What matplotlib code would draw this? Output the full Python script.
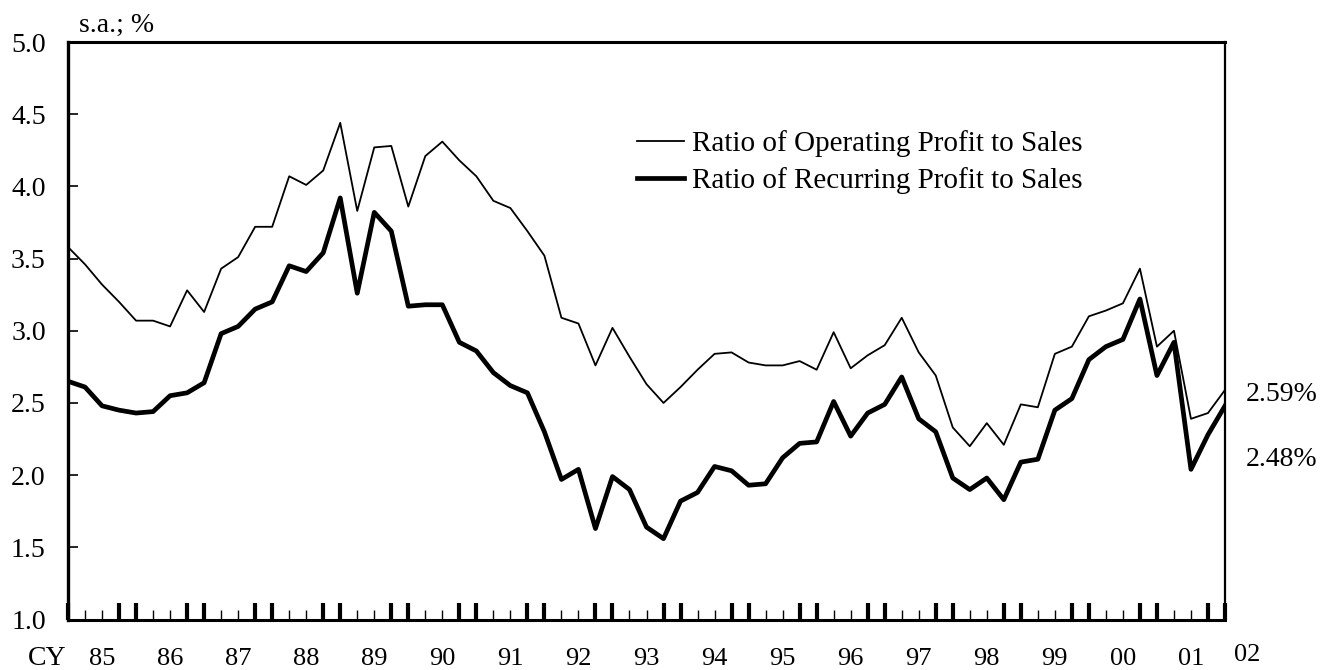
import numpy as np
from matplotlib import pyplot as plt
from matplotlib import transforms

# quarterly data, CY1985 Q1 .. CY2002 Q1 (s.a., %)
operating = [3.58, 3.46, 3.32, 3.20, 3.07, 3.07, 3.03, 3.28, 3.13, 3.43,
             3.51, 3.72, 3.72, 4.07, 4.01, 4.11, 4.44, 3.83, 4.27, 4.28,
             3.86, 4.21, 4.31, 4.18, 4.07, 3.90, 3.85, 3.69, 3.52, 3.09,
             3.05, 2.76, 3.02, 2.82, 2.63, 2.50, 2.61, 2.73, 2.84, 2.85,
             2.78, 2.76, 2.76, 2.79, 2.73, 2.99, 2.74, 2.83, 2.90, 3.09,
             2.85, 2.69, 2.33, 2.20, 2.36, 2.21, 2.49, 2.47, 2.84, 2.89,
             3.10, 3.14, 3.19, 3.43, 2.89, 3.00, 2.39, 2.43, 2.59]
recurring = [2.65, 2.61, 2.48, 2.45, 2.43, 2.44, 2.55, 2.57, 2.64, 2.98,
             3.03, 3.15, 3.20, 3.45, 3.41, 3.54, 3.92, 3.26, 3.82, 3.69,
             3.17, 3.18, 3.18, 2.92, 2.86, 2.71, 2.62, 2.57, 2.30, 1.97,
             2.04, 1.63, 1.99, 1.90, 1.64, 1.56, 1.82, 1.88, 2.06, 2.03,
             1.93, 1.94, 2.12, 2.22, 2.23, 2.51, 2.27, 2.43, 2.49, 2.68,
             2.39, 2.30, 1.98, 1.90, 1.98, 1.83, 2.09, 2.11, 2.45, 2.53,
             2.80, 2.89, 2.94, 3.22, 2.69, 2.92, 2.04, 2.28, 2.48]
year_labels = ['85', '86', '87', '88', '89', '90', '91', '92', '93', '94',
               '95', '96', '97', '98', '99', '00', '01', '02']
yticks = [1.0, 1.5, 2.0, 2.5, 3.0, 3.5, 4.0, 4.5, 5.0]

plt.rcParams['font.family'] = ['Liberation Serif', 'DejaVu Serif']
fs = 20

x = np.arange(len(operating))

fig = plt.figure(figsize=(13.2, 6.7), dpi=100)
ax = fig.add_axes([68 / 1320, 1 - 619.5 / 670, (1225 - 68) / 1320, 577.5 / 670])

ax.plot(x, operating, color='black', lw=1.3, label='Ratio of Operating Profit to Sales')
ax.plot(x, recurring, color='black', lw=3.4, label='Ratio of Recurring Profit to Sales')

ax.set_xlim(0, len(x) - 1)
ax.set_ylim(1.0, 5.0)

# y axis
ax.set_yticks(yticks)
ax.set_yticklabels(['%.1f' % v for v in yticks], fontsize=fs)
ax.tick_params(axis='y', direction='in', length=7.5, width=1.2, pad=16)

# x axis: thick tick pairs at year boundaries, thin ones between
major = [0] + [i for i in x if i % 4 in (0, 3) and i > 0]
minor = [i for i in x if i not in major]
ax.set_xticks(major)
ax.set_xticks(minor, minor=True)
ax.set_xticklabels([])
ax.tick_params(axis='x', which='major', direction='in', length=12.5, width=3.0)
ax.tick_params(axis='x', which='minor', direction='in', length=7.5, width=1.0)

trans = transforms.blended_transform_factory(ax.transData, fig.transFigure)
for k, lab in enumerate(year_labels[:-1]):
    ax.text(2 + 4 * k, 1 - 665 / 670, lab, transform=trans, ha='center',
            va='baseline', fontsize=19, clip_on=False)
ax.text(len(x) + 0.3, 1 - 661 / 670, year_labels[-1], transform=trans,
        ha='center', va='baseline', fontsize=19, clip_on=False)

for side, w in (('left', 2.4), ('top', 2.2), ('bottom', 2.2), ('right', 1.6)):
    ax.spines[side].set_linewidth(w)

# end-of-series labels
ax.text(len(x) + 0.2, 2.555, '%.2f%%' % operating[-1], fontsize=fs, va='center',
        ha='left', clip_on=False)
ax.text(len(x) + 0.2, 2.105, '%.2f%%' % recurring[-1], fontsize=fs, va='center',
        ha='left', clip_on=False)

fig.text(117 / 1320, 1 - 25 / 670, 's.a.; %', fontsize=fs, ha='center', va='center')
fig.text(47 / 1320, 1 - 665 / 670, 'CY', fontsize=fs, ha='center', va='baseline')

ax.legend(loc='upper left', bbox_to_anchor=(637 / 1320, 1 - 130 / 670),
          bbox_transform=fig.transFigure, frameon=False, fontsize=21,
          handlelength=1.6, handletextpad=0.3, labelspacing=0.35,
          borderpad=0, borderaxespad=0)

fig.savefig('out.png', dpi=100)
